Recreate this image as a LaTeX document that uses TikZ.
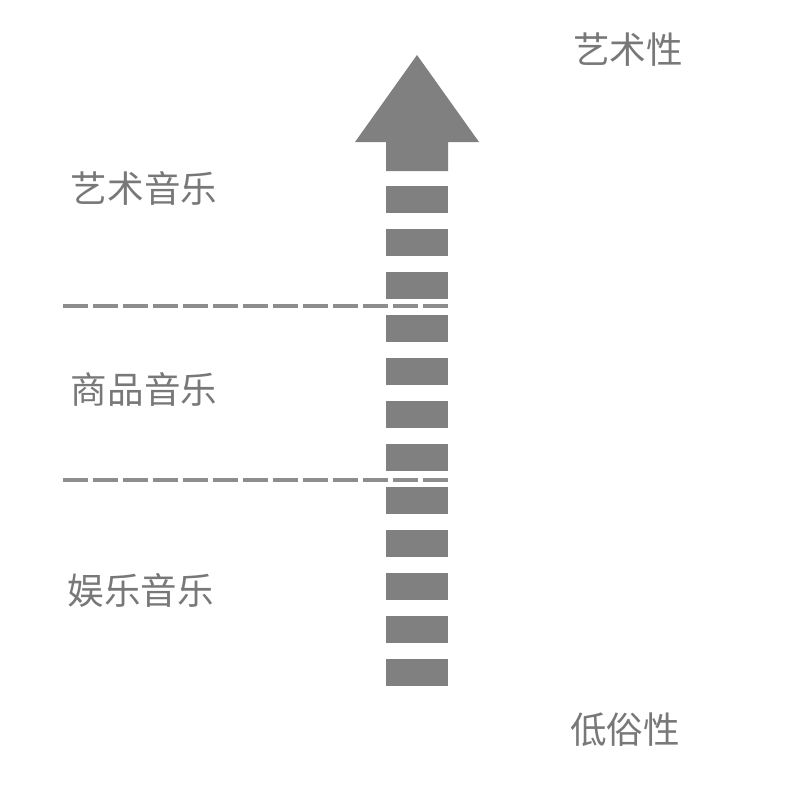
\documentclass[tikz,border=0pt]{standalone}
\usepackage{fontspec}
\newfontfamily\cjk{Noto Sans CJK SC}
\usepackage{xcolor}
\usetikzlibrary{positioning}
\definecolor{bargray}{HTML}{808080}
\definecolor{tiergray}{HTML}{787878}

\begin{document}
\begin{tikzpicture}[
        x=0.01cm, y=-0.01cm,
        bar/.style={rectangle, fill=bargray, minimum width=0.62cm, minimum height=0.27cm, inner sep=0pt},
        tier/.style={font=\cjk\fontsize{10.4pt}{12pt}\selectfont, text=tiergray, inner sep=0pt},
        divider/.style={draw=bargray!90, line width=1pt, dash pattern=on 0.25cm off 0.05cm}
    ]
        \useasboundingbox (0,0) rectangle (800,800);
        % arrow head and shaft
        \fill[bargray] (386,171) -- (386,142) -- (355,142) -- (417,55) -- (479,142) -- (448,142) -- (448,171) -- cycle;
        \foreach \i in {0,...,11}
            \node[bar] (bar\i) at (417,199.5+43*\i) {};
        % level dividers
        \coordinate (upleft) at (63,306);
        \coordinate (lowleft) at (63,480);
        \draw[divider] (upleft) -- (upleft -| bar2.east);
        \draw[divider] (lowleft) -- (lowleft -| bar6.east);
        \node[tier] (artmusic) at (144,188) {艺术音乐};
        \node[tier] (goodsmusic) at (144,389) {商品音乐};
        \node[tier] (funmusic) at (141,590) {娱乐音乐};
        \node[tier] (artistry) at (628,50) {艺术性};
        \node[tier] (vulgarity) at (625,730) {低俗性};
    \end{tikzpicture}
\end{document}
